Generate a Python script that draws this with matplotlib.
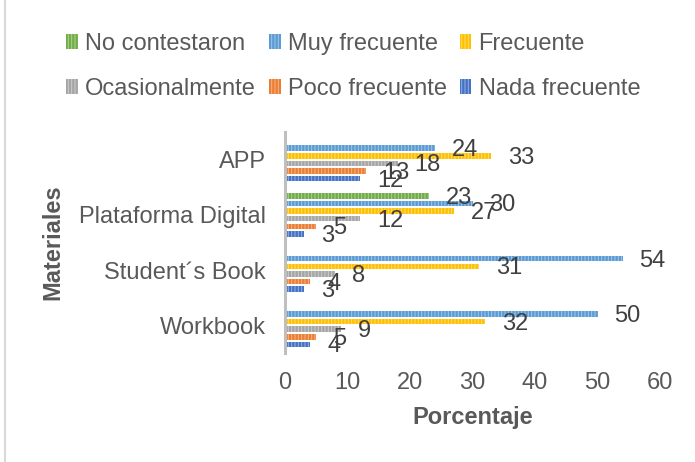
import numpy as np
import matplotlib
matplotlib.use('Agg')
import matplotlib.pyplot as plt
from matplotlib.colors import to_rgb
from matplotlib.lines import Line2D

# data
materials = ['APP', 'Plataforma Digital', 'Student´s Book', 'Workbook']
series_names = ['No contestaron', 'Muy frecuente', 'Frecuente',
                'Ocasionalmente', 'Poco frecuente', 'Nada frecuente']
no_contestaron = [0, 23, 0, 0]
muy_frecuente = [24, 30, 54, 50]
frecuente = [33, 27, 31, 32]
ocasionalmente = [18, 12, 8, 9]
poco_frecuente = [13, 5, 4, 5]
nada_frecuente = [12, 3, 3, 4]
x_ticks = [0, 10, 20, 30, 40, 50, 60]

series_values = [no_contestaron, muy_frecuente, frecuente,
                 ocasionalmente, poco_frecuente, nada_frecuente]
colors = ['#70AD47', '#5B9BD5', '#FFC000', '#A5A5A5', '#ED7D31', '#4472C4']

plt.rcParams['font.family'] = ['Liberation Sans', 'DejaVu Sans']
plt.rcParams['hatch.linewidth'] = 0.7
text_col = '#595959'

fig = plt.figure(figsize=(6.95, 4.62), dpi=100)
ax = fig.add_axes([285/695, 1 - 353/462, 375/695, 221/462])

def lighter(c, f=0.45):
    r, g, b = to_rgb(c)
    return (r + (1 - r)*f, g + (1 - g)*f, b + (1 - b)*f)

base = np.arange(len(materials))
slot = 0.1375
handles = []
for j, (name, vals, c) in enumerate(zip(series_names, series_values, colors)):
    y = base + (j - 2.5)*slot
    bars = ax.barh(y, vals, height=0.1, color=c, edgecolor=lighter(c),
                   linewidth=0, hatch='|||||', label=name)
    handles.append(bars)
    for yy, v in zip(y, vals):
        if v:
            ax.annotate(str(v), (v, yy), xytext=(17, -2), textcoords='offset pixels',
                        ha='left', va='center', fontsize=17, color='#404040')

ax.set_xlim(0, 60)
ax.set_ylim(3.5, -0.5)
ax.set_xticks(x_ticks)
ax.set_yticks(base)
ax.set_yticklabels(materials)
ax.tick_params(axis='both', length=0, labelsize=17, labelcolor=text_col)
ax.tick_params(axis='x', pad=14)
ax.tick_params(axis='y', pad=14)
for s in ['top', 'right', 'bottom']:
    ax.spines[s].set_visible(False)
ax.spines['left'].set_color('#BFBFBF')
ax.spines['left'].set_linewidth(2.2)

ax.set_xlabel('Porcentaje', fontsize=17, fontweight='bold', color=text_col, labelpad=8)
ax.set_ylabel('Materiales', fontsize=17, fontweight='bold', color=text_col, labelpad=10)

# legend laid out row-wise like the original
order = [0, 3, 1, 4, 2, 5]
fig.legend([handles[i] for i in order], [series_names[i] for i in order],
           ncol=3, loc='upper left', bbox_to_anchor=(66/695, 1 - 33/462),
           frameon=False, fontsize=17, labelcolor=text_col,
           handlelength=0.5, handleheight=0.6, handletextpad=0.3,
           columnspacing=0.55, labelspacing=0.97, borderpad=0, borderaxespad=0)

# outer chart border (left edge visible)
fig.add_artist(Line2D([5/695, 5/695], [0, 1], transform=fig.transFigure,
                      color='#D9D9D9', linewidth=1.5))

fig.savefig('out.png', dpi=100)
